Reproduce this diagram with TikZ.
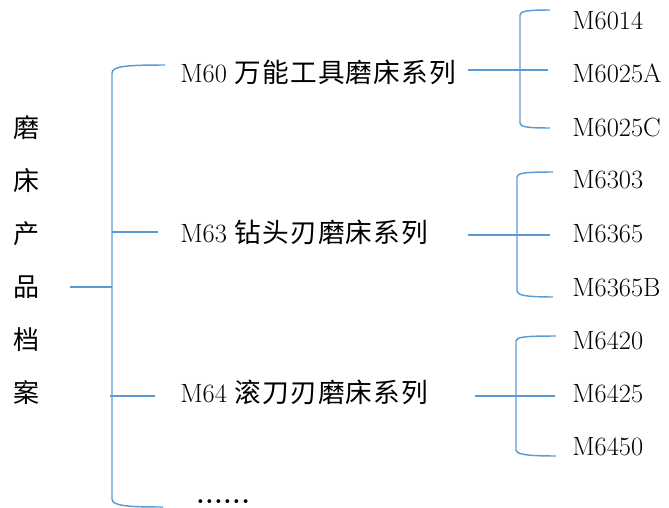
\documentclass[tikz,border=0pt]{standalone}
\usepackage{fontspec}
\newfontfamily\cjk{Noto Sans CJK SC}
\newfontfamily\cjkw[LetterSpace=4]{Noto Sans CJK SC}
\definecolor{brblue}{HTML}{5B9BD5}
\newcommand{\fsz}{\fontsize{19.8}{23}\selectfont}
\newcommand{\cjksz}{\fontsize{20}{23}\selectfont\cjkw}
\begin{document}
\begin{tikzpicture}[x=0.75pt,y=-0.75pt,
  lbl/.style={anchor=base west, inner sep=0pt, font=\fsz},
  rootcol/.style={anchor=center, inner sep=0pt, align=center, font=\fontsize{19.5}{39.75}\selectfont\cjk},
  br/.style={draw=brblue, line width=1.1pt}]
\useasboundingbox (0,0) rectangle (669,508);

% root
\node[rootcol] (root) at (26,260) {磨\\床\\产\\品\\档\\案};
\coordinate (rs) at (70,287);
\coordinate (rj) at (112,287);

% level 1 labels
\node[lbl] (g1) at (180,82) {M60 {\cjksz 万能工具磨床系列}};
\node[lbl] (g2) at (180,242) {M63 {\cjksz 钻头刃磨床系列}};
\node[lbl] (g3) at (180,402) {M64 {\cjksz 滚刀刃磨床系列}};
\node[lbl] (g4) at (196,503) {\bfseries .\kern.03em.\kern.03em.\kern.03em.\kern.03em.\kern.03em.};

% level 2 labels
\node[lbl] (a1) at (572,29) {M6014};
\node[lbl] (a2) at (572,82) {M6025A};
\node[lbl] (a3) at (572,136) {M6025C};
\node[lbl] (b1) at (572,188) {M6303};
\node[lbl] (b2) at (572,242) {M6365};
\node[lbl] (b3) at (572,296) {M6365B};
\node[lbl] (c1) at (572,349) {M6420};
\node[lbl] (c2) at (572,402) {M6425};
\node[lbl] (c3) at (572,455) {M6450};

% main bracket
\coordinate (m1) at (165,65);
\coordinate (m2) at (158,232);
\coordinate (m3) at (155,396);
\coordinate (m4) at (163,507);
\draw[br] (m1) .. controls (128,65) and (112,66) .. (112,73) -- (112,499)
  .. controls (112,506) and (128,507) .. (m4);
\draw[br] (112,232) -- (m2);
\draw[br] (110,396) -- (m3);
\draw[br] (rs) -- (rj);

% group 1 bracket
\coordinate (s1) at (468,70);
\coordinate (e1) at (548,70);
\draw[br] (550,10) .. controls (528,10) and (520,11) .. (520,15) -- (520,123)
  .. controls (520,127) and (528,128) .. (550,128);
\draw[br] (s1) -- (e1);

% group 2 bracket
\coordinate (s2) at (468,235);
\coordinate (e2) at (550,235);
\draw[br] (553,172) .. controls (525,172) and (517,173) .. (517,177) -- (517,291)
  .. controls (517,295) and (525,297) .. (553,297);
\draw[br] (s2) -- (e2);

% group 3 bracket
\coordinate (s3) at (475,396);
\coordinate (e3) at (555,396);
\draw[br] (556,336) .. controls (525,336) and (516,337) .. (516,341) -- (516,450)
  .. controls (516,454) and (525,456) .. (556,456);
\draw[br] (s3) -- (e3);
\end{tikzpicture}
\end{document}
